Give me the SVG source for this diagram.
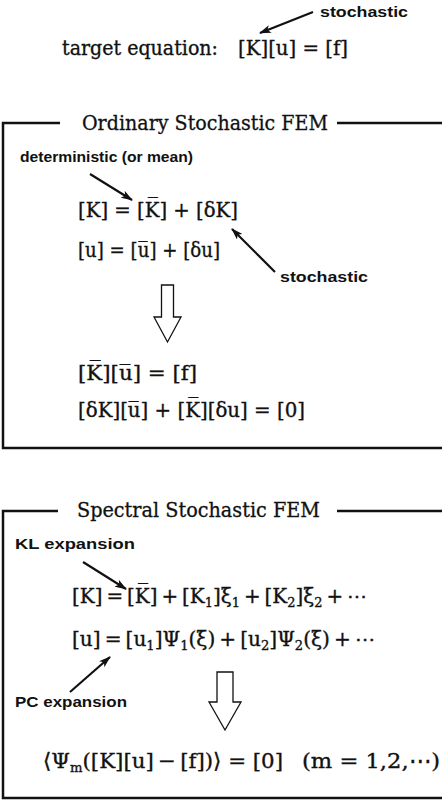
<svg xmlns="http://www.w3.org/2000/svg" width="442" height="800" viewBox="0 0 442 800">
<defs>
<marker id="ah" markerUnits="userSpaceOnUse" markerWidth="12" markerHeight="8" refX="11" refY="4" orient="auto"><path d="M0,0 L12,4 L0,8 L3,4 z" fill="#111"/></marker>
</defs>
<style>
.eq{font-family:"DejaVu Serif","Liberation Serif",serif;font-size:21px;fill:#111;stroke:#111;stroke-width:0.35}
.eq2{font-size:20px}
.ttl{font-family:"DejaVu Serif","Liberation Serif",serif;font-size:20.5px;fill:#111;stroke:#111;stroke-width:0.3}
.lbl{font-family:"Liberation Sans","DejaVu Sans",sans-serif;font-weight:bold;font-size:15.5px;fill:#111}
.sub{font-size:13px}
.frame{fill:none;stroke:#111;stroke-width:2.5}
.conn{stroke:#111;stroke-width:2.2;fill:none;marker-end:url(#ah)}
.hollow{fill:#fff;stroke:#111;stroke-width:1.3}
</style>
<rect width="442" height="800" fill="#fff"/>

<g id="target">
<text class="lbl" x="320" y="17" textLength="88" lengthAdjust="spacingAndGlyphs">stochastic</text>
<text class="eq" x="62" y="55" textLength="156" lengthAdjust="spacingAndGlyphs">target equation:</text>
<text class="eq" x="238" y="55" textLength="110" lengthAdjust="spacingAndGlyphs">[K][u] = [f]</text>
</g>

<g id="ordinary">
<path class="frame" d="M60,123 H3 V448 H442 M337,123 H442"/>
<text class="ttl" x="82" y="130" textLength="246" lengthAdjust="spacingAndGlyphs">Ordinary Stochastic FEM</text>
<text class="lbl" x="20" y="162" textLength="173" lengthAdjust="spacingAndGlyphs">deterministic (or mean)</text>
<text class="eq" x="78" y="217" textLength="160" lengthAdjust="spacingAndGlyphs">[K] = [K&#x305;] + [δK]</text>
<text class="eq" x="78" y="257" textLength="142" lengthAdjust="spacingAndGlyphs">[u] = [u&#x305;] + [δu]</text>
<text class="lbl" x="280" y="282" textLength="88" lengthAdjust="spacingAndGlyphs">stochastic</text>
<polygon class="hollow" points="161.5,285 173.5,285 173.5,317 181,317 167.5,342 154,317 161.5,317"/>
<text class="eq" x="78" y="380" textLength="119" lengthAdjust="spacingAndGlyphs">[K&#x305;][u&#x305;] = [f]</text>
<text class="eq" x="78" y="417" textLength="227" lengthAdjust="spacingAndGlyphs">[δK][u&#x305;] + [K&#x305;][δu] = [0]</text>
</g>

<g id="spectral">
<path class="frame" d="M58,511 H3 V798 H442 M337,511 H442"/>
<text class="ttl" x="77" y="517" textLength="243" lengthAdjust="spacingAndGlyphs">Spectral Stochastic FEM</text>
<text class="lbl" x="15" y="549" textLength="120" lengthAdjust="spacingAndGlyphs">KL expansion</text>
<text class="eq eq2" x="72" y="603" textLength="295" lengthAdjust="spacingAndGlyphs">[K]&#x2009;=&#x2009;[K&#x305;]&#x2009;+&#x2009;[K<tspan class="sub" dy="4">1</tspan><tspan dy="-4">]ξ</tspan><tspan class="sub" dy="4">1</tspan><tspan dy="-4">&#x2009;+&#x2009;[K</tspan><tspan class="sub" dy="4">2</tspan><tspan dy="-4">]ξ</tspan><tspan class="sub" dy="4">2</tspan><tspan dy="-4">&#x2009;+&#x2009;⋯</tspan></text>
<text class="eq eq2" x="72" y="646" textLength="303" lengthAdjust="spacingAndGlyphs">[u]&#x2009;=&#x2009;[u<tspan class="sub" dy="4">1</tspan><tspan dy="-4">]Ψ</tspan><tspan class="sub" dy="4">1</tspan><tspan dy="-4">(ξ)&#x2009;+&#x2009;[u</tspan><tspan class="sub" dy="4">2</tspan><tspan dy="-4">]Ψ</tspan><tspan class="sub" dy="4">2</tspan><tspan dy="-4">(ξ)&#x2009;+&#x2009;⋯</tspan></text>
<text class="lbl" x="15" y="707" textLength="112" lengthAdjust="spacingAndGlyphs">PC expansion</text>
<polygon class="hollow" points="217,672 233,672 233,702 241,702 225,730 209,702 217,702"/>
<text class="eq" x="43" y="768" textLength="240" lengthAdjust="spacingAndGlyphs">⟨Ψ<tspan class="sub" dy="4">m</tspan><tspan dy="-4">([K][u]&#x2009;−&#x2009;[f])⟩ = [0]</tspan></text>
<text class="eq" x="302" y="768" textLength="138" lengthAdjust="spacingAndGlyphs">(m = 1,2,⋯)</text>
</g>

<g id="connectors">
<line class="conn" x1="313" y1="12" x2="260" y2="33"/>
<line class="conn" x1="90" y1="174" x2="132" y2="200"/>
<line class="conn" x1="275" y1="272" x2="232" y2="229"/>
<line class="conn" x1="83" y1="562" x2="126" y2="589"/>
<line class="conn" x1="70" y1="692" x2="110" y2="657"/>
</g>
</svg>
